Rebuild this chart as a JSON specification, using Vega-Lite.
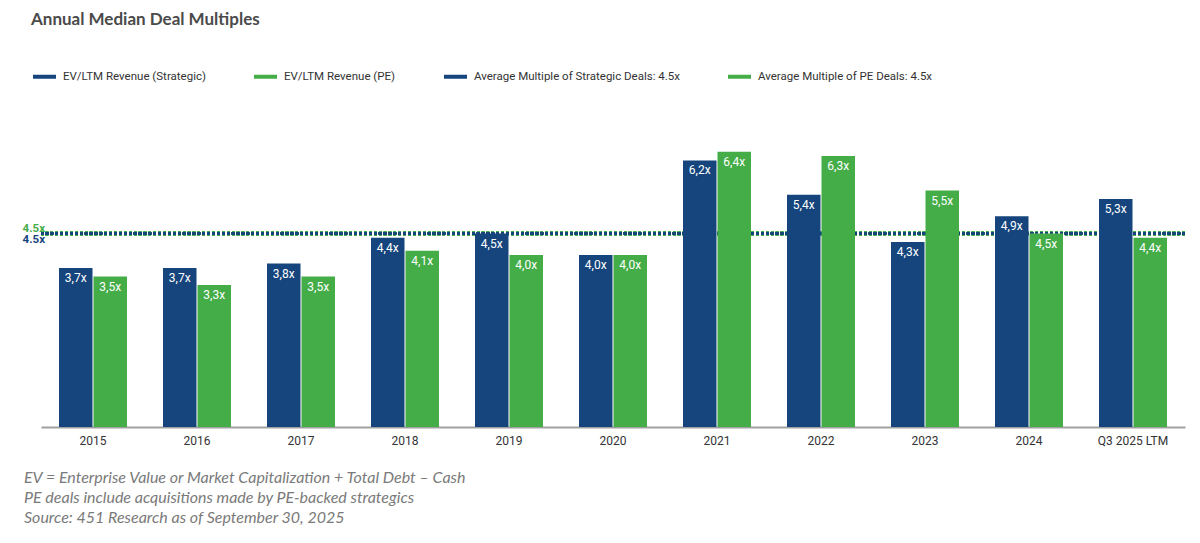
{
  "$schema": "https://vega.github.io/schema/vega-lite/v6.json",
  "width": 1144,
  "height": 301,
  "autosize": {"type": "none"},
  "padding": {"left": 41, "top": 126, "right": 15, "bottom": 116},
  "background": "#ffffff",
  "title": {
    "text": ["EV = Enterprise Value or Market Capitalization + Total Debt – Cash", "PE deals include acquisitions made by PE-backed strategics", "Source: 451 Research as of September 30, 2025"],
    "orient": "bottom",
    "anchor": "start",
    "frame": "group",
    "align": "left",
    "baseline": "top",
    "dx": -17,
    "offset": 24,
    "font": "Lato",
    "fontSize": 16,
    "fontStyle": "italic",
    "fontWeight": "normal",
    "color": "#7a7a7a",
    "lineHeight": 20
  },
  "data": {
    "values": [
      {"year": "2015", "series": "EV/LTM Revenue (Strategic)", "value": 3.7},
      {"year": "2015", "series": "EV/LTM Revenue (PE)", "value": 3.5},
      {"year": "2016", "series": "EV/LTM Revenue (Strategic)", "value": 3.7},
      {"year": "2016", "series": "EV/LTM Revenue (PE)", "value": 3.3},
      {"year": "2017", "series": "EV/LTM Revenue (Strategic)", "value": 3.8},
      {"year": "2017", "series": "EV/LTM Revenue (PE)", "value": 3.5},
      {"year": "2018", "series": "EV/LTM Revenue (Strategic)", "value": 4.4},
      {"year": "2018", "series": "EV/LTM Revenue (PE)", "value": 4.1},
      {"year": "2019", "series": "EV/LTM Revenue (Strategic)", "value": 4.5},
      {"year": "2019", "series": "EV/LTM Revenue (PE)", "value": 4.0},
      {"year": "2020", "series": "EV/LTM Revenue (Strategic)", "value": 4.0},
      {"year": "2020", "series": "EV/LTM Revenue (PE)", "value": 4.0},
      {"year": "2021", "series": "EV/LTM Revenue (Strategic)", "value": 6.2},
      {"year": "2021", "series": "EV/LTM Revenue (PE)", "value": 6.4},
      {"year": "2022", "series": "EV/LTM Revenue (Strategic)", "value": 5.4},
      {"year": "2022", "series": "EV/LTM Revenue (PE)", "value": 6.3},
      {"year": "2023", "series": "EV/LTM Revenue (Strategic)", "value": 4.3},
      {"year": "2023", "series": "EV/LTM Revenue (PE)", "value": 5.5},
      {"year": "2024", "series": "EV/LTM Revenue (Strategic)", "value": 4.9},
      {"year": "2024", "series": "EV/LTM Revenue (PE)", "value": 4.5},
      {"year": "Q3 2025 LTM", "series": "EV/LTM Revenue (Strategic)", "value": 5.3},
      {"year": "Q3 2025 LTM", "series": "EV/LTM Revenue (PE)", "value": 4.4}
    ]
  },
  "layer": [
    {
      "mark": {"type": "rule", "strokeDash": [2.5, 2.4], "strokeWidth": 3.5, "color": "#44ad48"},
      "encoding": {"y": {"datum": 4.5, "type": "quantitative", "scale": {"domain": [0, 7]}, "axis": null}}
    },
    {
      "mark": {"type": "rule", "strokeDash": [2.5, 2.4], "strokeWidth": 2.2, "color": "#15457c"},
      "encoding": {"y": {"datum": 4.5, "type": "quantitative", "scale": {"domain": [0, 7]}, "axis": null}}
    },
    {
      "transform": [{"filter": "datum.series == 'EV/LTM Revenue (Strategic)'"}],
      "mark": {"type": "bar", "width": 33.5, "xOffset": -17.25},
      "encoding": {
        "x": {
          "field": "year",
          "type": "nominal",
          "scale": {"paddingInner": 0, "paddingOuter": 0},
          "axis": {
            "title": null,
            "labelAngle": 0,
            "labelFont": "Roboto",
            "labelFontSize": 12,
            "labelColor": "#333333",
            "labelPadding": 8,
            "ticks": false,
            "domainColor": "#a0a0a0",
            "domainWidth": 2,
            "grid": false
          }
        },
        "y": {"field": "value", "type": "quantitative", "stack": null, "scale": {"domain": [0, 7]}, "axis": null},
        "color": {
          "field": "series",
          "type": "nominal",
          "scale": {
            "domain": ["EV/LTM Revenue (Strategic)", "EV/LTM Revenue (PE)", "Average Multiple of Strategic Deals: 4.5x", "Average Multiple of PE Deals: 4.5x"],
            "range": ["#15457c", "#44ad48", "#15457c", "#44ad48"]
          },
          "legend": {
            "title": "Annual Median Deal Multiples",
            "titleFont": "Lato",
            "titleFontSize": 17,
            "titleFontWeight": "bold",
            "titleColor": "#4a4a4a",
            "titlePadding": 34,
            "titleLimit": 600,
            "orient": "none",
            "legendX": -10,
            "legendY": -114,
            "direction": "horizontal",
            "columns": 4,
            "columnPadding": 40,
            "symbolType": "stroke",
            "symbolSize": 529,
            "symbolStrokeWidth": 4,
            "labelFont": "Roboto",
            "labelFontSize": 11.5,
            "labelColor": "#333333",
            "labelOffset": 5,
            "labelLimit": 300,
            "encode": {
              "symbols": {
                "update": {
                  "stroke": {"scale": "color", "field": "value"},
                  "fill": {"value": "transparent"}
                }
              }
            }
          }
        }
      }
    },
    {
      "transform": [{"filter": "datum.series == 'EV/LTM Revenue (PE)'"}],
      "mark": {"type": "bar", "width": 33.5, "xOffset": 17.25},
      "encoding": {
        "x": {"field": "year", "type": "nominal"},
        "y": {"field": "value", "type": "quantitative", "stack": null, "scale": {"domain": [0, 7]}, "axis": null},
        "color": {
          "field": "series",
          "type": "nominal",
          "scale": {
            "domain": ["EV/LTM Revenue (Strategic)", "EV/LTM Revenue (PE)", "Average Multiple of Strategic Deals: 4.5x", "Average Multiple of PE Deals: 4.5x"],
            "range": ["#15457c", "#44ad48", "#15457c", "#44ad48"]
          },
          "legend": null
        }
      }
    },
    {
      "transform": [
        {"filter": "datum.series == 'EV/LTM Revenue (Strategic)'"},
        {"calculate": "replace(format(datum.value, '.1f'), '.', ',') + 'x'", "as": "lbl"}
      ],
      "mark": {"type": "text", "baseline": "top", "dy": 5, "xOffset": -17.25, "color": "#ffffff", "font": "Roboto", "fontSize": 12},
      "encoding": {
        "x": {"field": "year", "type": "nominal"},
        "y": {"field": "value", "type": "quantitative"},
        "text": {"field": "lbl"}
      }
    },
    {
      "transform": [
        {"filter": "datum.series == 'EV/LTM Revenue (PE)'"},
        {"calculate": "replace(format(datum.value, '.1f'), '.', ',') + 'x'", "as": "lbl"}
      ],
      "mark": {"type": "text", "baseline": "top", "dy": 5, "xOffset": 17.25, "color": "#ffffff", "font": "Roboto", "fontSize": 12},
      "encoding": {
        "x": {"field": "year", "type": "nominal"},
        "y": {"field": "value", "type": "quantitative"},
        "text": {"field": "lbl"}
      }
    },
    {
      "transform": [{"filter": "datum.year == '2015' && datum.series == 'EV/LTM Revenue (Strategic)'"}],
      "mark": {"type": "text", "align": "right", "baseline": "middle", "dx": 4, "dy": -5, "color": "#44ad48", "font": "Roboto", "fontSize": 11.5, "fontWeight": "bold"},
      "encoding": {
        "x": {"field": "year", "type": "nominal", "bandPosition": 0},
        "y": {"datum": 4.5, "type": "quantitative"},
        "text": {"value": "4.5x"}
      }
    },
    {
      "transform": [{"filter": "datum.year == '2015' && datum.series == 'EV/LTM Revenue (Strategic)'"}],
      "mark": {"type": "text", "align": "right", "baseline": "middle", "dx": 4, "dy": 6, "color": "#15457c", "font": "Roboto", "fontSize": 11.5, "fontWeight": "bold"},
      "encoding": {
        "x": {"field": "year", "type": "nominal", "bandPosition": 0},
        "y": {"datum": 4.5, "type": "quantitative"},
        "text": {"value": "4.5x"}
      }
    }
  ],
  "config": {"view": {"stroke": null}}
}
